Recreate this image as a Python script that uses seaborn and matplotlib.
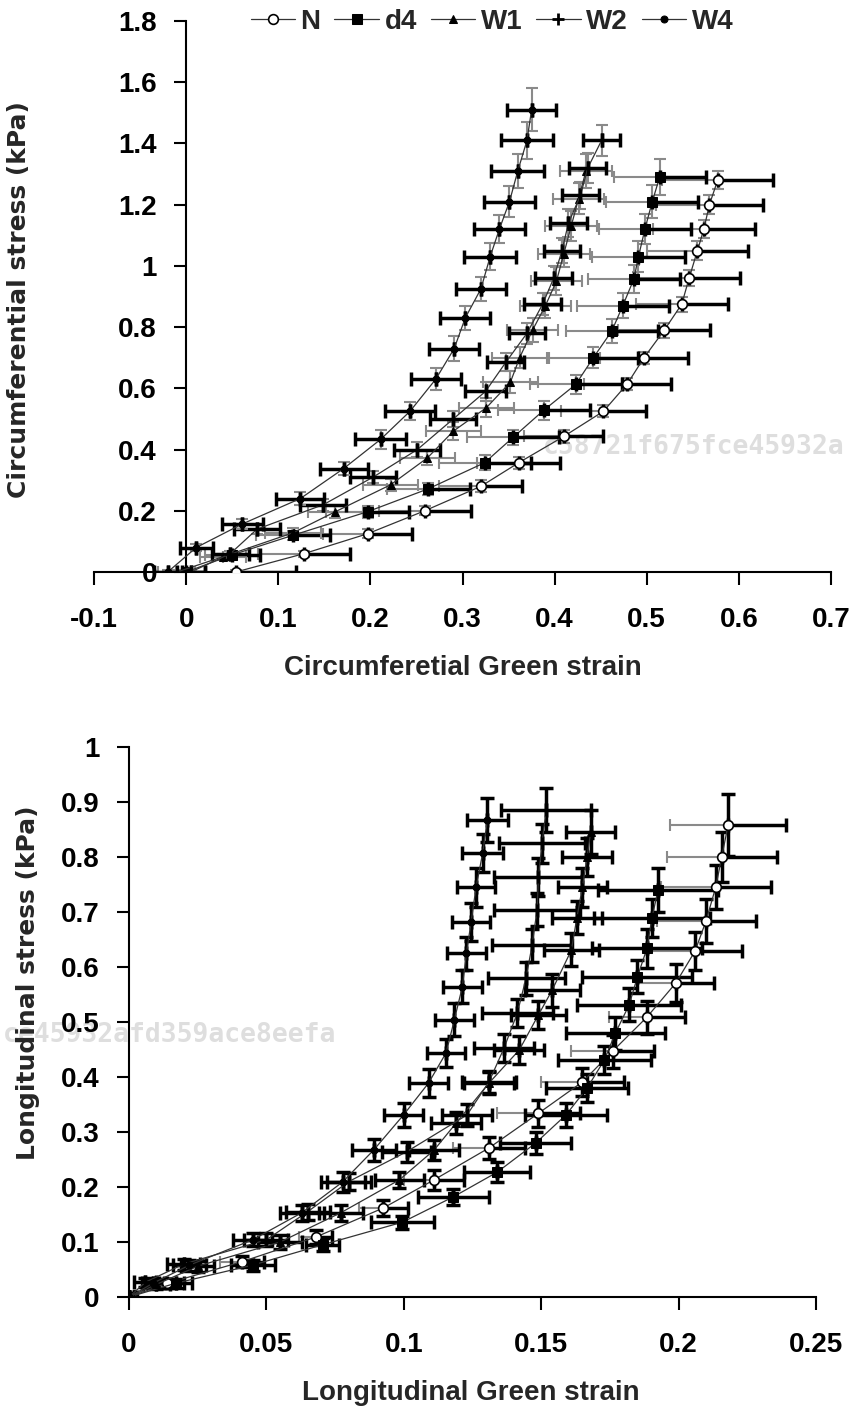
import numpy as np
import pandas as pd
import seaborn as sns
import matplotlib.pyplot as plt
from matplotlib.ticker import FuncFormatter, MultipleLocator

# ---- circumferential (top panel) ----
n_circ_x = [0.054, 0.128, 0.197, 0.259, 0.32, 0.361, 0.41, 0.453, 0.479, 0.497, 0.519, 0.538, 0.546, 0.555, 0.562, 0.568, 0.577]
n_circ_y = [0, 0.06, 0.125, 0.2, 0.28, 0.357, 0.443, 0.525, 0.615, 0.70, 0.79, 0.875, 0.96, 1.05, 1.12, 1.20, 1.28]
n_circ_xerr = [0.065, 0.05, 0.048, 0.05, 0.045, 0.045, 0.043, 0.046, 0.047, 0.048, 0.05, 0.05, 0.055, 0.055, 0.055, 0.058, 0.06]
n_circ_yerr = [0.005, 0.01, 0.015, 0.015, 0.02, 0.02, 0.02, 0.02, 0.02, 0.02, 0.025, 0.025, 0.025, 0.03, 0.03, 0.03, 0.03]

d4_circ_x = [0.0, 0.05, 0.116, 0.197, 0.263, 0.324, 0.355, 0.388, 0.423, 0.442, 0.462, 0.474, 0.486, 0.491, 0.498, 0.506, 0.514]
d4_circ_y = [0, 0.056, 0.12, 0.197, 0.272, 0.357, 0.44, 0.528, 0.613, 0.70, 0.787, 0.87, 0.957, 1.03, 1.12, 1.21, 1.29]
d4_circ_xerr = [0.02, 0.03, 0.04, 0.045, 0.045, 0.05, 0.05, 0.05, 0.05, 0.048, 0.05, 0.05, 0.05, 0.05, 0.05, 0.05, 0.05]
d4_circ_yerr = [0.005, 0.01, 0.015, 0.02, 0.02, 0.025, 0.025, 0.03, 0.03, 0.035, 0.04, 0.04, 0.045, 0.05, 0.05, 0.055, 0.06]

w1_circ_x = [-0.01, 0.04, 0.116, 0.162, 0.222, 0.262, 0.29, 0.326, 0.352, 0.362, 0.376, 0.39, 0.402, 0.41, 0.418, 0.426, 0.434]
w1_circ_y = [0, 0.05, 0.128, 0.197, 0.285, 0.373, 0.46, 0.537, 0.62, 0.70, 0.79, 0.87, 0.95, 1.04, 1.13, 1.22, 1.31]
w1_circ_xerr = [0.02, 0.025, 0.03, 0.03, 0.03, 0.03, 0.03, 0.03, 0.03, 0.03, 0.028, 0.028, 0.028, 0.028, 0.028, 0.028, 0.028]
w1_circ_yerr = [0.005, 0.01, 0.015, 0.02, 0.02, 0.025, 0.03, 0.03, 0.035, 0.035, 0.04, 0.04, 0.045, 0.045, 0.05, 0.05, 0.055]

w2_circ_x = [0.005, 0.048, 0.077, 0.149, 0.203, 0.251, 0.29, 0.325, 0.347, 0.37, 0.387, 0.399, 0.408, 0.415, 0.428, 0.436, 0.451]
w2_circ_y = [0, 0.06, 0.14, 0.22, 0.31, 0.40, 0.50, 0.59, 0.685, 0.78, 0.875, 0.96, 1.05, 1.14, 1.23, 1.32, 1.41]
w2_circ_xerr = [0.015, 0.02, 0.025, 0.025, 0.025, 0.025, 0.025, 0.022, 0.02, 0.02, 0.02, 0.02, 0.02, 0.02, 0.02, 0.02, 0.02]
w2_circ_yerr = [0.005, 0.01, 0.015, 0.02, 0.02, 0.025, 0.025, 0.03, 0.03, 0.035, 0.035, 0.04, 0.04, 0.045, 0.045, 0.05, 0.05]

w4_circ_x = [-0.02, 0.011, 0.061, 0.124, 0.171, 0.211, 0.243, 0.271, 0.291, 0.303, 0.32, 0.33, 0.34, 0.351, 0.36, 0.37, 0.375]
w4_circ_y = [0, 0.08, 0.157, 0.24, 0.338, 0.433, 0.525, 0.63, 0.73, 0.83, 0.925, 1.03, 1.12, 1.21, 1.31, 1.41, 1.51]
w4_circ_xerr = [0.015, 0.018, 0.022, 0.026, 0.026, 0.028, 0.027, 0.027, 0.027, 0.027, 0.027, 0.028, 0.028, 0.028, 0.029, 0.028, 0.027]
w4_circ_yerr = [0.005, 0.01, 0.015, 0.02, 0.02, 0.03, 0.03, 0.035, 0.04, 0.04, 0.04, 0.045, 0.045, 0.05, 0.055, 0.06, 0.07]

# ---- longitudinal (bottom panel) ----
n_long_x = [0, 0.014, 0.041, 0.068, 0.0926, 0.111, 0.131, 0.149, 0.165, 0.176, 0.1885, 0.199, 0.206, 0.21, 0.2135, 0.2157, 0.218]
n_long_y = [0, 0.025, 0.064, 0.109, 0.162, 0.213, 0.271, 0.334, 0.391, 0.447, 0.509, 0.571, 0.629, 0.684, 0.745, 0.80, 0.858]
n_long_xerr = [0.002, 0.006, 0.008, 0.006, 0.009, 0.011, 0.013, 0.015, 0.015, 0.015, 0.014, 0.014, 0.017, 0.018, 0.02, 0.02, 0.021]
n_long_yerr = [0.005, 0.008, 0.01, 0.012, 0.015, 0.018, 0.02, 0.025, 0.025, 0.03, 0.03, 0.035, 0.035, 0.04, 0.04, 0.045, 0.057]

d4_long_x = [0, 0.017, 0.045, 0.0705, 0.0995, 0.118, 0.134, 0.148, 0.159, 0.1667, 0.173, 0.177, 0.182, 0.185, 0.1885, 0.1903, 0.1925]
d4_long_y = [0, 0.025, 0.058, 0.095, 0.136, 0.182, 0.227, 0.28, 0.331, 0.38, 0.431, 0.48, 0.531, 0.582, 0.634, 0.689, 0.74]
d4_long_xerr = [0.002, 0.006, 0.008, 0.006, 0.0115, 0.013, 0.012, 0.013, 0.015, 0.015, 0.017, 0.018, 0.019, 0.02, 0.02, 0.021, 0.022]
d4_long_yerr = [0.005, 0.008, 0.01, 0.012, 0.012, 0.015, 0.018, 0.02, 0.022, 0.025, 0.025, 0.03, 0.03, 0.03, 0.035, 0.035, 0.04]

w1_long_x = [0, 0.01, 0.025, 0.055, 0.077, 0.0984, 0.111, 0.119, 0.131, 0.142, 0.149, 0.154, 0.161, 0.163, 0.165, 0.1667, 0.168]
w1_long_y = [0, 0.023, 0.056, 0.10, 0.153, 0.213, 0.267, 0.316, 0.389, 0.449, 0.513, 0.558, 0.631, 0.69, 0.745, 0.80, 0.845]
w1_long_xerr = [0.002, 0.005, 0.006, 0.008, 0.008, 0.009, 0.009, 0.009, 0.009, 0.009, 0.01, 0.01, 0.01, 0.009, 0.009, 0.009, 0.009]
w1_long_yerr = [0.005, 0.008, 0.01, 0.012, 0.015, 0.015, 0.018, 0.02, 0.02, 0.025, 0.025, 0.03, 0.03, 0.03, 0.035, 0.035, 0.04]

w2_long_x = [0, 0.006, 0.02, 0.05, 0.065, 0.08, 0.101, 0.123, 0.131, 0.1365, 0.1413, 0.1445, 0.1467, 0.1485, 0.149, 0.1503, 0.1518]
w2_long_y = [0, 0.027, 0.06, 0.104, 0.155, 0.21, 0.264, 0.331, 0.391, 0.453, 0.516, 0.58, 0.64, 0.704, 0.764, 0.825, 0.885]
w2_long_xerr = [0.002, 0.004, 0.006, 0.008, 0.008, 0.008, 0.009, 0.009, 0.01, 0.011, 0.013, 0.014, 0.0145, 0.0155, 0.016, 0.0156, 0.0165]
w2_long_yerr = [0.005, 0.008, 0.01, 0.012, 0.015, 0.015, 0.018, 0.02, 0.02, 0.025, 0.025, 0.03, 0.03, 0.03, 0.035, 0.035, 0.04]

w4_long_x = [0, 0.0087, 0.022, 0.045, 0.0628, 0.0777, 0.089, 0.0999, 0.109, 0.1154, 0.1184, 0.1213, 0.1228, 0.1245, 0.1263, 0.1287, 0.1304]
w4_long_y = [0, 0.025, 0.058, 0.104, 0.153, 0.209, 0.267, 0.331, 0.389, 0.444, 0.504, 0.564, 0.625, 0.682, 0.745, 0.807, 0.867]
w4_long_xerr = [0.003, 0.004, 0.006, 0.007, 0.008, 0.008, 0.008, 0.007, 0.007, 0.007, 0.007, 0.007, 0.007, 0.007, 0.007, 0.0075, 0.0075]
w4_long_yerr = [0.005, 0.008, 0.01, 0.012, 0.015, 0.018, 0.02, 0.022, 0.025, 0.025, 0.03, 0.03, 0.03, 0.035, 0.035, 0.035, 0.04]

groups = ['N', 'd4', 'W1', 'W2', 'W4']
circ_x_ticks = [-0.1, 0, 0.1, 0.2, 0.3, 0.4, 0.5, 0.6, 0.7]
long_x_ticks = [0, 0.05, 0.1, 0.15, 0.2, 0.25]

sns.set_style('white')
plt.rcParams['font.family'] = ['Liberation Sans', 'DejaVu Sans']
plt.rcParams['font.weight'] = 'bold'
plt.rcParams['axes.labelweight'] = 'bold'

markers = {
    'N': dict(marker='o', markersize=7, markerfacecolor='white', markeredgecolor='black', markeredgewidth=1.2),
    'd4': dict(marker='s', markersize=7, markerfacecolor='black', markeredgecolor='black'),
    'W1': dict(marker='^', markersize=6, markerfacecolor='black', markeredgecolor='black'),
    'W2': dict(marker='+', markersize=8, markerfacecolor='black', markeredgecolor='black', markeredgewidth=2),
    'W4': dict(marker='o', markersize=5, markerfacecolor='black', markeredgecolor='black'),
}
thick = dict(ecolor='black', elinewidth=2.5, capsize=5, capthick=2.5)
thin = dict(ecolor='#8a8a8a', elinewidth=1.5, capsize=4, capthick=1.5)


def draw_series(ax, name, x, y, xerr, yerr, minus_kw, plus_kw, y_kw):
    x = np.asarray(x)
    y = np.asarray(y)
    xerr = np.asarray(xerr)
    zero = np.zeros_like(xerr)
    ax.errorbar(x, y, yerr=yerr, fmt='none', zorder=2, **y_kw)
    ax.errorbar(x, y, xerr=[xerr, zero], fmt='none', zorder=2, **minus_kw)
    ax.errorbar(x, y, xerr=[zero, xerr], fmt='none', zorder=2, **plus_kw)
    df = pd.DataFrame({'strain': x, 'stress': y})
    sns.lineplot(data=df, x='strain', y='stress', ax=ax, sort=False, estimator=None,
                 color='#333333', linewidth=0.9, label=name, zorder=3, **markers[name])


def style_axes(ax, xlim, ylim, xticks, ystep, xlabel, ylabel, xlab_pos, ylab_pos):
    ax.set_facecolor('none')
    ax.set_xlim(*xlim)
    ax.set_ylim(*ylim)
    ax.set_xticks(xticks)
    ax.yaxis.set_major_locator(MultipleLocator(ystep))
    fmt = FuncFormatter(lambda v, _: ('%g' % round(v, 3)))
    ax.xaxis.set_major_formatter(fmt)
    ax.yaxis.set_major_formatter(fmt)
    for s in ['top', 'right']:
        ax.spines[s].set_visible(False)
    ax.spines['left'].set_position(('data', 0))
    ax.spines['bottom'].set_position(('data', 0))
    for s in ['left', 'bottom']:
        ax.spines[s].set_linewidth(1.5)
        ax.spines[s].set_color('black')
    ax.tick_params(axis='both', direction='out', length=9, width=1.5, labelsize=20,
                   colors='black', left=True, bottom=True)
    ax.tick_params(axis='y', pad=12)
    ax.tick_params(axis='x', pad=16)
    ax.set_xlabel(xlabel, fontsize=20, fontweight='bold')
    ax.set_ylabel(ylabel, fontsize=18, fontweight='bold', family='DejaVu Sans')
    ax.xaxis.set_label_coords(*xlab_pos)
    ax.yaxis.set_label_coords(*ylab_pos)


fig = plt.figure(figsize=(8.52, 14.21), dpi=100)
fig.patch.set_facecolor('white')

fig.text(543 / 852, 1 - 447 / 1421, 'c58721f675fce45932a', fontsize=19, color='#dedede',
         family='DejaVu Sans Mono', fontweight='bold', ha='left', va='center', zorder=-5)
fig.text(3 / 852, 1 - 1035 / 1421, 'ce45932afd359ace8eefa', fontsize=19, color='#dedede',
         family='DejaVu Sans Mono', fontweight='bold', ha='left', va='center', zorder=-5)

ax1 = fig.add_axes([94 / 852, 1 - 572 / 1421, 737 / 852, 551 / 1421])
ax2 = fig.add_axes([129 / 852, 1 - 1297 / 1421, 687 / 852, 550 / 1421])

circ = {
    'N': (n_circ_x, n_circ_y, n_circ_xerr, n_circ_yerr),
    'd4': (d4_circ_x, d4_circ_y, d4_circ_xerr, d4_circ_yerr),
    'W1': (w1_circ_x, w1_circ_y, w1_circ_xerr, w1_circ_yerr),
    'W2': (w2_circ_x, w2_circ_y, w2_circ_xerr, w2_circ_yerr),
    'W4': (w4_circ_x, w4_circ_y, w4_circ_xerr, w4_circ_yerr),
}
long_ = {
    'N': (n_long_x, n_long_y, n_long_xerr, n_long_yerr),
    'd4': (d4_long_x, d4_long_y, d4_long_xerr, d4_long_yerr),
    'W1': (w1_long_x, w1_long_y, w1_long_xerr, w1_long_yerr),
    'W2': (w2_long_x, w2_long_y, w2_long_xerr, w2_long_yerr),
    'W4': (w4_long_x, w4_long_y, w4_long_xerr, w4_long_yerr),
}

top_styles = {
    'N': (thin, thick, thin),
    'd4': (thin, thick, thin),
    'W1': (thin, thin, thin),
    'W2': (thick, thick, thin),
    'W4': (thick, thick, thin),
}
bottom_styles = {
    'N': (thin, thick, thick),
    'd4': (thick, thick, thick),
    'W1': (thick, thick, thick),
    'W2': (thick, thick, thick),
    'W4': (thick, thick, thick),
}

for g in groups:
    draw_series(ax1, g, *circ[g], *top_styles[g])
    draw_series(ax2, g, *long_[g], *bottom_styles[g])

style_axes(ax1, (-0.1, 0.7), (0, 1.8), circ_x_ticks, 0.2,
           'Circumferetial Green strain', 'Circumferential stress (kPa)',
           (0.50, -0.15), (-0.086, 0.494))
style_axes(ax2, (0, 0.25), (0, 1.0), long_x_ticks, 0.1,
           'Longitudinal Green strain', 'Longitudinal stress (kPa)',
           (0.497, -0.15), (-0.13, 0.571))

handles, labels = ax1.get_legend_handles_labels()
ax1.legend(handles, labels, loc='center', bbox_to_anchor=(0.54, 0.998), ncol=5,
           frameon=False, fontsize=20, handlelength=1.6, handletextpad=0.2,
           columnspacing=0.5, borderaxespad=0)
if ax2.get_legend() is not None:
    ax2.get_legend().remove()

fig.savefig('out.png', dpi=100)
